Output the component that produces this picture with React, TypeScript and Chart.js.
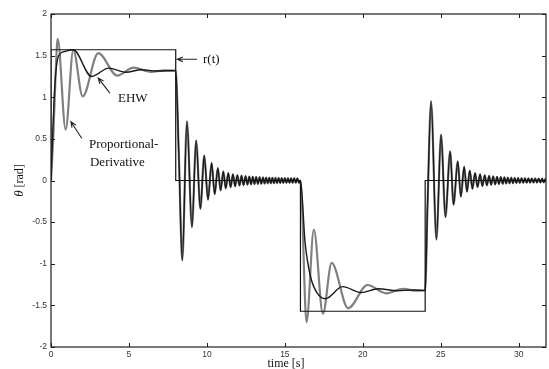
import React, { useEffect, useRef } from "react";
import { Chart, registerables } from "chart.js";
Chart.register(...registerables);

// reference r(t)
const refTime = [0, 0, 8, 8, 16, 16, 24, 24, 31.75];
const refValue = [0, 1.5708, 1.5708, 0, 0, -1.5708, -1.5708, 0, 0];

// Proportional-Derivative, first step (0..8 s)
const pdStep1Time = [0, 0.15, 0.3, 0.43, 0.94, 1.43, 2.03, 3.03, 4.25, 5.3, 6.4, 7.3, 8.0];
const pdStep1Value = [0, 0.55, 1.3, 1.7, 0.61, 1.57, 1.01, 1.53, 1.26, 1.355, 1.305, 1.322, 1.32];

// EHW, first step (0..8 s)
const ehwStep1Time = [0, 0.12, 0.25, 0.47, 0.9, 1.43, 2.6, 3.7, 4.8, 5.8, 6.8, 8.0];
const ehwStep1Value = [0, 0.6, 1.15, 1.49, 1.55, 1.57, 1.25, 1.35, 1.3, 1.33, 1.315, 1.32];

// shared oscillation after the step back to 0 (8..16 s)
const osc1Time = [8.2, 8.42, 8.72, 9.04, 9.31, 9.58, 9.83, 10.07, 10.3, 10.5, 10.7, 10.88, 11.05, 11.21, 11.37, 11.52, 11.67, 11.81, 11.95, 12.09, 12.22, 12.35, 12.48, 12.6, 12.72, 12.83, 12.94, 13.05, 13.16, 13.27, 13.38, 13.49, 13.6, 13.7, 13.8, 13.9, 14.0, 14.1, 14.2, 14.3, 14.4, 14.5, 14.6, 14.7, 14.8, 14.9, 15.0, 15.1, 15.2, 15.3, 15.4, 15.5, 15.6, 15.7, 15.8, 15.9];
const osc1Value = [0.3, -0.96, 0.71, -0.56, 0.48, -0.34, 0.3, -0.23, 0.21, -0.165, 0.15, -0.12, 0.11, -0.095, 0.09, -0.08, 0.075, -0.07, 0.065, -0.06, 0.058, -0.055, 0.052, -0.05, 0.048, -0.046, 0.045, -0.043, 0.042, -0.041, 0.04, -0.039, 0.038, -0.037, 0.036, -0.035, 0.034, -0.034, 0.033, -0.033, 0.032, -0.032, 0.031, -0.031, 0.03, -0.03, 0.03, -0.029, 0.029, -0.029, 0.028, -0.028, 0.028, -0.027, 0.027, -0.027];

// Proportional-Derivative, negative step (16..24 s)
const pdStep3Time = [16.0, 16.39, 16.86, 17.44, 18.0, 19.06, 20.3, 21.5, 22.6, 23.3, 24.0];
const pdStep3Value = [0, -1.7, -0.59, -1.6, -0.99, -1.535, -1.255, -1.355, -1.3, -1.322, -1.32];

// EHW, negative step (16..24 s)
const ehwStep3Time = [16.0, 16.3, 16.64, 17.1, 17.6, 18.7, 19.9, 21.0, 22.2, 23.2, 24.0];
const ehwStep3Value = [0, -0.75, -1.15, -1.36, -1.42, -1.275, -1.345, -1.3, -1.325, -1.315, -1.32];

// shared oscillation after the step back to 0 (24..end)
const osc2Time = [24.15, 24.38, 24.72, 25.02, 25.3, 25.6, 25.82, 26.09, 26.29, 26.5, 26.68, 26.86, 27.03, 27.2, 27.36, 27.52, 27.67, 27.82, 27.96, 28.1, 28.23, 28.36, 28.49, 28.61, 28.73, 28.85, 28.97, 29.08, 29.19, 29.3, 29.41, 29.52, 29.63, 29.74, 29.85, 29.96, 30.07, 30.18, 30.29, 30.4, 30.51, 30.62, 30.73, 30.84, 30.95, 31.06, 31.17, 31.28, 31.39, 31.5, 31.61, 31.72];
const osc2Value = [-0.3, 0.95, -0.71, 0.55, -0.44, 0.35, -0.29, 0.23, -0.195, 0.166, -0.135, 0.12, -0.1, 0.09, -0.08, 0.075, -0.068, 0.063, -0.058, 0.055, -0.052, 0.05, -0.047, 0.045, -0.043, 0.042, -0.04, 0.039, -0.037, 0.036, -0.035, 0.034, -0.033, 0.032, -0.031, 0.03, -0.03, 0.029, -0.028, 0.028, -0.027, 0.027, -0.026, 0.026, -0.025, 0.025, -0.025, 0.024, -0.024, 0.024, -0.023, 0.023];

const xTitle = "time [s]";
const yTitleSymbol = "θ";
const yTitleUnit = " [rad]";

function pts(t: number[], v: number[]) {
  const n = Math.min(t.length, v.length);
  const out: { x: number; y: number }[] = [];
  for (let i = 0; i < n; i++) out.push({ x: t[i], y: v[i] });
  return out;
}

const framePlugin = {
  id: "frame",
  afterDraw(chart: any) {
    const { ctx, chartArea: a, scales } = chart;
    const xs = scales.x;
    const ys = scales.y;
    ctx.save();
    ctx.strokeStyle = "#1e1e1e";
    ctx.lineWidth = 1.2;
    ctx.strokeRect(a.left, a.top, a.right - a.left, a.bottom - a.top);
    ctx.lineWidth = 1;
    const tl = 4;
    ctx.beginPath();
    xs.ticks.forEach((t: any) => {
      const p = Math.round(xs.getPixelForValue(t.value)) + 0.5;
      ctx.moveTo(p, a.top);
      ctx.lineTo(p, a.top + tl);
      ctx.moveTo(p, a.bottom);
      ctx.lineTo(p, a.bottom - tl);
    });
    ys.ticks.forEach((t: any) => {
      const p = Math.round(ys.getPixelForValue(t.value)) + 0.5;
      ctx.moveTo(a.left, p);
      ctx.lineTo(a.left + tl, p);
      ctx.moveTo(a.right, p);
      ctx.lineTo(a.right - tl, p);
    });
    ctx.stroke();

    // axis titles
    ctx.fillStyle = "#111";
    ctx.textBaseline = "middle";
    ctx.font = "12px 'Liberation Serif'";
    ctx.textAlign = "center";
    ctx.fillText(xTitle, a.left + 235, 364);

    ctx.save();
    ctx.translate(20, (a.top + a.bottom) / 2);
    ctx.rotate(-Math.PI / 2);
    ctx.font = "italic 13px 'Liberation Serif'";
    const w1 = ctx.measureText(yTitleSymbol).width;
    ctx.font = "12px 'Liberation Serif'";
    const w2 = ctx.measureText(yTitleUnit).width;
    const start = -(w1 + w2) / 2;
    ctx.textAlign = "left";
    ctx.font = "italic 13px 'Liberation Serif'";
    ctx.fillText(yTitleSymbol, start, 0);
    ctx.font = "12px 'Liberation Serif'";
    ctx.fillText(yTitleUnit, start + w1, 0);
    ctx.restore();

    // annotations
    const X = (v: number) => xs.getPixelForValue(v);
    const Y = (v: number) => ys.getPixelForValue(v);
    const arrow = (x1: number, y1: number, x2: number, y2: number) => {
      const ang = Math.atan2(y2 - y1, x2 - x1);
      const L = 6;
      ctx.beginPath();
      ctx.moveTo(x1, y1);
      ctx.lineTo(x2, y2);
      ctx.moveTo(x2 - L * Math.cos(ang - 0.4), y2 - L * Math.sin(ang - 0.4));
      ctx.lineTo(x2, y2);
      ctx.lineTo(x2 - L * Math.cos(ang + 0.4), y2 - L * Math.sin(ang + 0.4));
      ctx.stroke();
    };
    ctx.strokeStyle = "#222";
    ctx.lineWidth = 1.1;
    arrow(X(9.37), Y(1.456), X(8.1), Y(1.456));
    arrow(X(3.78), Y(1.05), X(3.03), Y(1.23));
    arrow(X(1.97), Y(0.507), X(1.28), Y(0.706));
    ctx.font = "13px 'Liberation Serif'";
    ctx.textAlign = "left";
    ctx.fillStyle = "#111";
    ctx.fillText("r(t)", X(9.75), Y(1.456));
    ctx.fillText("EHW", X(4.3), Y(0.99));
    ctx.fillText("Proportional-", X(2.44), Y(0.426));
    ctx.fillText("Derivative", X(2.5), Y(0.21));
    ctx.restore();
  },
};

export default function App() {
  const ref = useRef<HTMLCanvasElement | null>(null);
  useEffect(() => {
    document.body.style.margin = "0";
    const canvas = ref.current;
    if (!canvas) return;
    const pd = [
      ...pts(pdStep1Time, pdStep1Value),
      ...pts(osc1Time, osc1Value),
      ...pts(pdStep3Time, pdStep3Value),
      ...pts(osc2Time, osc2Value),
    ];
    const ehw = [
      ...pts(ehwStep1Time, ehwStep1Value),
      ...pts(osc1Time, osc1Value),
      ...pts(ehwStep3Time, ehwStep3Value),
      ...pts(osc2Time, osc2Value),
    ];
    const tickFont = { family: "'Liberation Sans'", size: 8.5 };
    const chart = new Chart(canvas, {
      type: "line",
      data: {
        datasets: [
          {
            label: "r(t)",
            data: pts(refTime, refValue),
            borderColor: "#111",
            borderWidth: 1.2,
            pointRadius: 0,
            tension: 0,
          },
          {
            label: "EHW",
            data: ehw,
            borderColor: "#1a1a1a",
            borderWidth: 1.4,
            pointRadius: 0,
            cubicInterpolationMode: "monotone",
          },
          {
            label: "Proportional-Derivative",
            data: pd,
            borderColor: "#808080",
            borderWidth: 2.2,
            pointRadius: 0,
            cubicInterpolationMode: "monotone",
          },
        ],
      },
      options: {
        animation: false,
        responsive: false,
        maintainAspectRatio: false,
        events: [],
        layout: { padding: { left: 0, right: 3, top: 14, bottom: 0 } },
        plugins: { legend: { display: false }, tooltip: { enabled: false } },
        scales: {
          x: {
            type: "linear",
            min: 0,
            max: 31.75,
            border: { display: false },
            grid: { display: false, drawTicks: false },
            ticks: {
              stepSize: 5,
              includeBounds: false,
              padding: 3,
              font: tickFont,
              color: "#333",
              maxRotation: 0,
              autoSkip: false,
              callback: (v: any) => String(v),
            },
            afterFit: (s: any) => {
              s.height = 22;
            },
          },
          y: {
            type: "linear",
            min: -2,
            max: 2,
            border: { display: false },
            grid: { display: false, drawTicks: false },
            ticks: {
              stepSize: 0.5,
              padding: 4,
              font: tickFont,
              color: "#333",
              callback: (v: any) => String(Math.round(v * 10) / 10),
            },
            afterFit: (s: any) => {
              s.width = 51;
            },
          },
        },
      },
      plugins: [framePlugin],
    } as any);
    return () => chart.destroy();
  }, []);
  return (
    <div style={{ position: "fixed", left: 0, top: 0, width: 549, height: 369, background: "#fff" }}>
      <canvas ref={ref} width={549} height={369} style={{ display: "block" }} />
    </div>
  );
}
